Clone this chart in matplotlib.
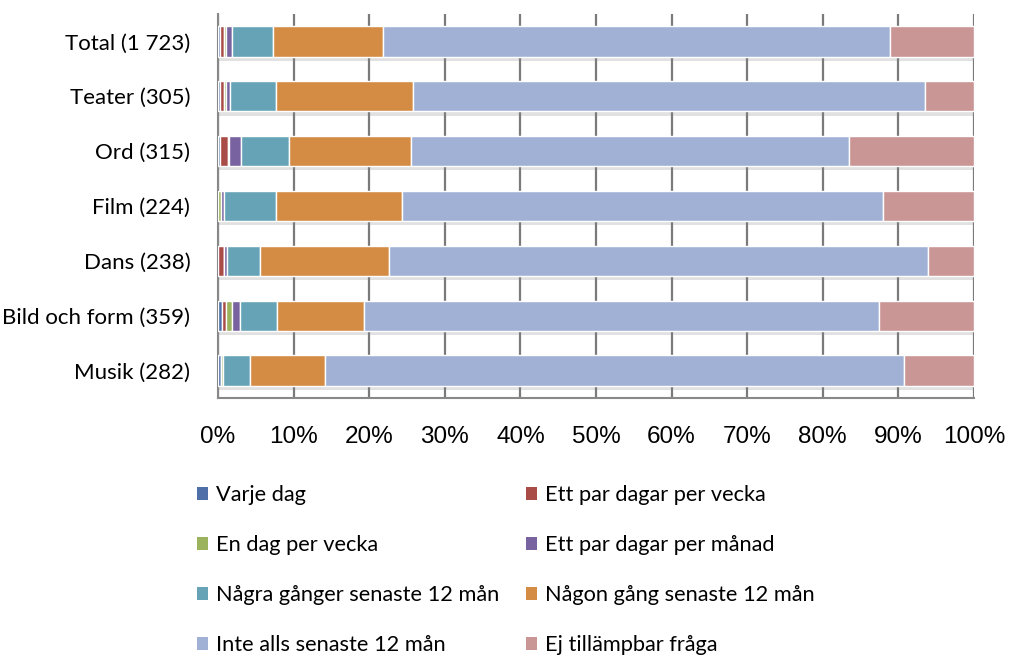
import matplotlib
matplotlib.use("Agg")
import matplotlib.pyplot as plt
import matplotlib.patheffects as pe
from matplotlib.patches import Patch
import numpy as np

categories = ["Total (1 723)", "Teater (305)", "Ord (315)", "Film (224)",
              "Dans (238)", "Bild och form (359)", "Musik (282)"]
series_names = ["Varje dag", "Ett par dagar per vecka", "En dag per vecka",
                "Ett par dagar per månad", "Några gånger senaste 12 mån",
                "Någon gång senaste 12 mån", "Inte alls senaste 12 mån",
                "Ej tillämpbar fråga"]
varje_dag      = [0.3, 0.3, 0.3, 0.0, 0.0, 0.5, 0.4]
par_vecka      = [0.5, 0.5, 1.0, 0.0, 0.8, 0.6, 0.0]
en_dag_vecka   = [0.3, 0.3, 0.1, 0.4, 0.0, 0.8, 0.3]
par_manad      = [0.7, 0.5, 1.6, 0.4, 0.4, 1.0, 0.0]
nagra_ganger   = [5.5, 6.1, 6.4, 6.9, 4.4, 4.9, 3.5]
nagon_gang     = [14.5, 18.1, 16.1, 16.6, 17.0, 11.5, 10.0]
inte_alls      = [67.1, 67.7, 58.0, 63.7, 71.4, 68.1, 76.5]
ej_tillampbar  = [11.1, 6.5, 16.5, 12.0, 6.0, 12.6, 9.3]
tick_labels = ["0%", "10%", "20%", "30%", "40%", "50%", "60%", "70%", "80%", "90%", "100%"]

series = [varje_dag, par_vecka, en_dag_vecka, par_manad, nagra_ganger,
          nagon_gang, inte_alls, ej_tillampbar]
colors = ["#4f6fa8", "#a94b47", "#9bb35c", "#7862a0", "#67a3b7",
          "#d48c45", "#a1b1d6", "#c99695"]

fig = plt.figure(figsize=(10.24, 6.70), dpi=100)
ax = fig.add_axes([0.213, 0.406, 0.738, 0.573])

y = np.arange(len(categories))
left = np.zeros(len(categories))
handles = []
for name, vals, c in zip(series_names, series, colors):
    vals = np.array(vals)
    bars = ax.barh(y, vals, left=left, height=0.55, color=c,
                   edgecolor="white", linewidth=1.0, zorder=3)
    for b in bars:
        b.set_path_effects([pe.SimplePatchShadow(offset=(0.5, -3), shadow_rgbFace="#888888", alpha=0.25),
                            pe.Normal()])
    left += vals
    handles.append(Patch(facecolor=c, edgecolor="none", label=name))

ax.set_xlim(0, 100)
ax.set_ylim(len(categories) - 0.5, -0.5)
ax.set_xticks(np.arange(0, 101, 10))
ax.set_xticklabels(tick_labels, fontsize=17.5, family="Liberation Sans")
ax.set_yticks(y)
ax.set_yticklabels(categories, fontsize=16, family="Lato")
ax.tick_params(axis="x", length=0, pad=20)
ax.tick_params(axis="y", length=0, pad=20)
ax.xaxis.grid(True, color="#7a7a7a", linewidth=1.6, zorder=0)
ax.set_axisbelow(True)
for s in ["top", "right"]:
    ax.spines[s].set_visible(False)
for s in ["left", "bottom"]:
    ax.spines[s].set_color("#888888")
    ax.spines[s].set_linewidth(1.5)

order = [0, 2, 4, 6, 1, 3, 5, 7]
leg = fig.legend([handles[i] for i in order], [series_names[i] for i in order],
                 ncol=2, loc="upper left", bbox_to_anchor=(0.184, 0.289),
                 frameon=False, prop={"family": "Lato", "size": 15.7},
                 handlelength=0.5, handleheight=0.5, handletextpad=0.35,
                 labelspacing=1.38, columnspacing=1.25, borderaxespad=0)

fig.savefig("out.png", dpi=100)
